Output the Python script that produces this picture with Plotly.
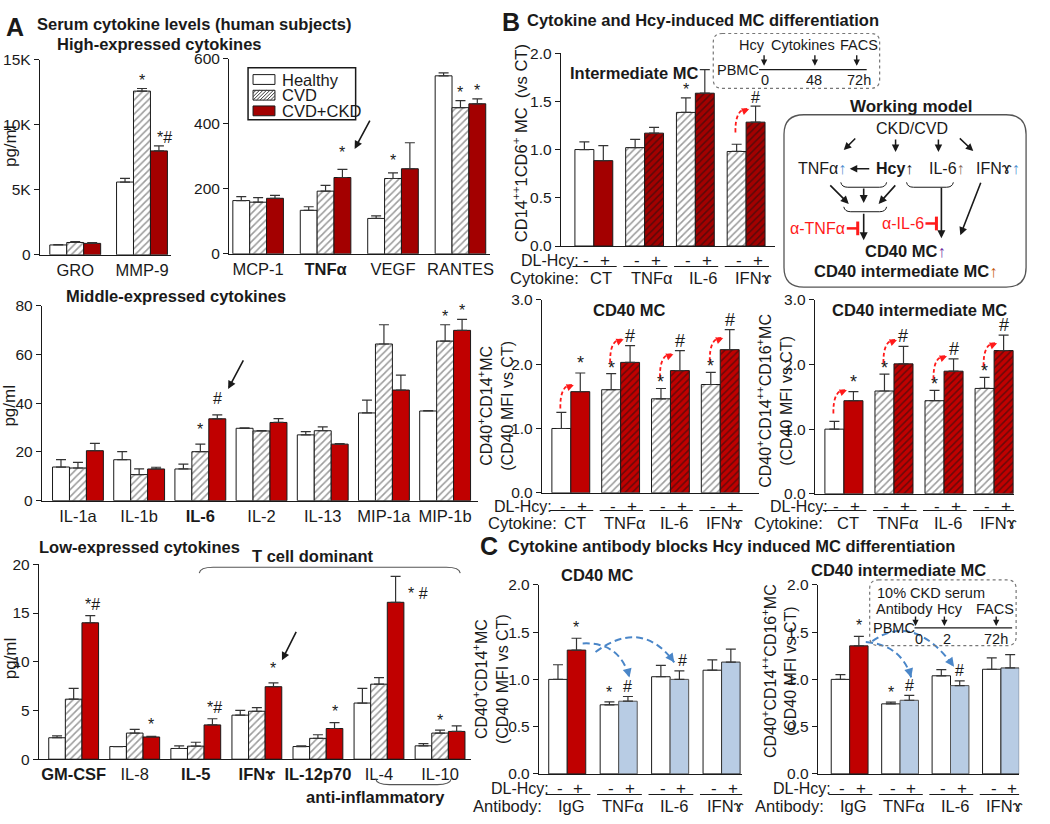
import plotly.graph_objects as go

W, H = 1050, 824
FONT = "Liberation Sans, Arial, Helvetica, sans-serif"
INK = "#1a1a1a"
RED = "#C00000"
DRED = "#A30000"
BLUE = "#B8CCE4"
HATCH = "#3a3a3a"
TS = 16.5  # bold title size

# ---------------- data ----------------
series_A = ["Healthy", "CVD", "CVD+CKD"]

hi_left_cats = ["GRO", "MMP-9"]
hi_left_healthy = [760, 5600]
hi_left_healthy_err = [30, 280]
hi_left_cvd = [950, 12600]
hi_left_cvd_err = [60, 200]
hi_left_ckd = [880, 8000]
hi_left_ckd_err = [60, 390]

hi_right_cats = ["MCP-1", "<b>TNFα</b>", "VEGF", "RANTES"]
hi_right_healthy = [164, 134, 109, 548]
hi_right_healthy_err = [12, 11, 8, 9]
hi_right_cvd = [159, 193, 232, 450]
hi_right_cvd_err = [14, 18, 17, 22]
hi_right_ckd = [171, 235, 262, 462]
hi_right_ckd_err = [9, 25, 80, 15]

mid_cats = ["IL-1a", "IL-1b", "<b>IL-6</b>", "IL-2", "IL-13", "MIP-1a", "MIP-1b"]
mid_healthy = [13.8, 16.8, 13.0, 29.7, 27.0, 36.0, 36.8]
mid_healthy_err = [3.0, 3.3, 2.0, 0.2, 1.3, 5.3, 0.2]
mid_cvd = [13.4, 10.7, 20.1, 28.6, 28.7, 64.3, 65.5]
mid_cvd_err = [2.3, 2.3, 3.1, 0.2, 1.6, 7.9, 6.7]
mid_ckd = [20.5, 13.0, 33.6, 32.1, 23.2, 45.4, 69.9]
mid_ckd_err = [3.0, 0.7, 1.6, 1.6, 0.2, 6.1, 4.5]

low_cats = ["<b>GM-CSF</b>", "IL-8", "<b>IL-5</b>", "<b>IFNɤ</b>", "<b>IL-12p70</b>", "IL-4", "IL-10"]
low_healthy = [2.2, 1.3, 1.1, 4.52, 1.3, 5.76, 1.37]
low_healthy_err = [0.2, 0.0, 0.27, 0.5, 0.07, 1.5, 0.23]
low_cvd = [6.16, 2.68, 1.34, 4.92, 2.14, 7.7, 2.68]
low_cvd_err = [1.1, 0.37, 0.4, 0.37, 0.37, 0.68, 0.3]
low_ckd = [14.0, 2.28, 3.52, 7.44, 3.15, 16.1, 2.85]
low_ckd_err = [0.74, 0.07, 0.63, 0.4, 0.6, 2.66, 0.57]

cyto_cats = ["CT", "TNFα", "IL-6", "IFNɤ"]
ab_cats = ["IgG", "TNFα", "IL-6", "IFNɤ"]

inter_minus = [1.0, 1.02, 1.385, 0.98]
inter_minus_err = [0.08, 0.085, 0.15, 0.075]
inter_plus = [0.885, 1.17, 1.584, 1.284]
inter_plus_err = [0.155, 0.06, 0.245, 0.166]

cd40_minus = [1.0, 1.603, 1.462, 1.684]
cd40_minus_err = [0.25, 0.25, 0.16, 0.19]
cd40_plus = [1.573, 2.028, 1.90, 2.226]
cd40_plus_err = [0.29, 0.26, 0.31, 0.31]

cd40i_minus = [1.0, 1.59, 1.44, 1.63]
cd40i_minus_err = [0.12, 0.26, 0.16, 0.17]
cd40i_plus = [1.44, 2.01, 1.897, 2.216]
cd40i_plus_err = [0.14, 0.27, 0.19, 0.24]

ab_minus = [1.0, 0.731, 1.028, 1.097]
ab_minus_err = [0.155, 0.03, 0.12, 0.11]
ab_plus = [1.31, 0.769, 1.0, 1.183]
ab_plus_err = [0.125, 0.05, 0.09, 0.137]

abi_minus = [1.0, 0.741, 1.038, 1.107]
abi_minus_err = [0.05, 0.018, 0.065, 0.12]
abi_plus = [1.355, 0.779, 0.934, 1.121]
abi_plus_err = [0.10, 0.052, 0.05, 0.14]

# ---------------- helpers ----------------
fig = go.Figure()
layout = {}
panels = {}
annotations = []
shapes = []


def xid(i):
    return "x" if i == 1 else f"x{i}"


def yid(i):
    return "y" if i == 1 else f"y{i}"


def add_panel(i, xpx, ypx, xr, yr, yticks, yticktext=None, xtickvals=None, xticktext=None):
    xa = dict(domain=[xpx[0] / W, xpx[1] / W], range=xr, anchor=yid(i), showline=True,
              linecolor=INK, linewidth=1.2, ticks="", showgrid=False, zeroline=False,
              fixedrange=True, tickfont=dict(size=16.5, color=INK, family=FONT))
    if xtickvals is not None:
        xa.update(tickmode="array", tickvals=xtickvals, ticktext=xticktext)
    else:
        xa.update(showticklabels=False)
    ya = dict(domain=[1 - ypx[1] / H, 1 - ypx[0] / H], range=yr, anchor=xid(i), showline=True,
              linecolor=INK, linewidth=1.2, ticks="outside", ticklen=5, tickwidth=1.2,
              tickcolor=INK, showgrid=False, zeroline=False, fixedrange=True,
              tickmode="array", tickvals=yticks,
              ticktext=yticktext if yticktext else None,
              tickfont=dict(size=15.5, color=INK, family=FONT))
    if yticktext is None:
        ya["tickformat"] = ".1f" if yr[1] <= 3 else "d"
    key = "" if i == 1 else str(i)
    layout["xaxis" + key] = xa
    layout["yaxis" + key] = ya
    panels[i] = dict(xpx=xpx, ypx=ypx, xr=xr, yr=yr)


def ppu_y(i):
    p = panels[i]
    return (p["ypx"][1] - p["ypx"][0]) / (p["yr"][1] - p["yr"][0])


def ppu_x(i):
    p = panels[i]
    return (p["xpx"][1] - p["xpx"][0]) / (p["xr"][1] - p["xr"][0])


def err_style(e):
    return dict(type="data", symmetric=False, array=e, arrayminus=[0] * len(e),
                color="#333333", thickness=1.2, width=5)


def txt(x, y, s, size=15, bold=False, xanchor="center", color=INK, angle=0, yanchor="middle"):
    annotations.append(dict(x=x / W, y=1 - y / H, xref="paper", yref="paper",
                            text=f"<b>{s}</b>" if bold else s, showarrow=False,
                            xanchor=xanchor, yanchor=yanchor, textangle=angle,
                            font=dict(size=size, color=color, family=FONT)))


def arrow(xh, yh, xt, yt, color=INK, width=1.5, size=1.0, head=2):
    annotations.append(dict(x=xh / W, y=1 - yh / H, xref="paper", yref="paper",
                            ax=xt - xh, ay=yt - yh, showarrow=True, arrowhead=head,
                            arrowsize=size, arrowwidth=width, arrowcolor=color,
                            text="", standoff=0))


def P(x, y):
    return f"{x / W:.5f},{1 - y / H:.5f}"


def ppath(segs, color=INK, width=1.2, dash=None, fill=None):
    out = []
    for s in segs:
        if s[0] == "Z":
            out.append("Z")
        elif s[0] == "Q":
            out.append(f"Q{P(s[1], s[2])} {P(s[3], s[4])}")
        else:
            out.append(f"{s[0]}{P(s[1], s[2])}")
    d = dict(type="path", xref="paper", yref="paper", path=" ".join(out),
             line=dict(color=color, width=width))
    if dash:
        d["line"]["dash"] = dash
    if fill:
        d["fillcolor"] = fill
    shapes.append(d)


def hline(x0, x1, y, color=INK, width=1.2):
    shapes.append(dict(type="line", xref="paper", yref="paper", x0=x0 / W, x1=x1 / W,
                       y0=1 - y / H, y1=1 - y / H, line=dict(color=color, width=width)))


def vline(x, y0, y1, color=INK, width=1.2):
    shapes.append(dict(type="line", xref="paper", yref="paper", x0=x / W, x1=x / W,
                       y0=1 - y0 / H, y1=1 - y1 / H, line=dict(color=color, width=width)))


def prect(x0, y0, x1, y1, line=INK, fill="white", width=1.0):
    shapes.append(dict(type="rect", xref="paper", yref="paper", x0=x0 / W, x1=x1 / W,
                       y0=1 - y1 / H, y1=1 - y0 / H, line=dict(color=line, width=width),
                       fillcolor=fill))


def rrect(x0, y0, x1, y1, r, color, width, dash=None):
    ppath([("M", x0 + r, y0), ("L", x1 - r, y0), ("Q", x1, y0, x1, y0 + r),
           ("L", x1, y1 - r), ("Q", x1, y1, x1 - r, y1), ("L", x0 + r, y1),
           ("Q", x0, y1, x0, y1 - r), ("L", x0, y0 + r), ("Q", x0, y0, x0 + r, y0)],
          color=color, width=width, dash=dash)


def mark(i, x, top, s, xshift=0, yshift=0, size=15):
    annotations.append(dict(x=x, y=top, xref=xid(i), yref=yid(i), text=s, showarrow=False,
                            xanchor="center", yanchor="bottom", xshift=xshift, yshift=yshift - 2,
                            font=dict(size=size, color=INK, family=FONT)))


def style_A(s, red):
    if s == 0:
        return dict(color="white", line=dict(color=INK, width=1))
    if s == 1:
        return dict(color="white", line=dict(color=INK, width=1),
                    pattern=dict(shape="/", fgcolor=HATCH, bgcolor="white", size=5, solidity=0.32))
    return dict(color=red, line=dict(color=INK, width=1))


def bars_A(i, cats, vals, errs, bw, red):
    n = len(cats)
    xs_all = []
    for s in range(3):
        xs = [g + (s - 1) * bw for g in range(n)]
        xs_all.append(xs)
        fig.add_trace(go.Bar(x=xs, y=vals[s], width=bw, name=series_A[s], showlegend=False,
                             xaxis=xid(i), yaxis=yid(i), marker=style_A(s, red),
                             error_y=err_style(errs[s]), hoverinfo="skip"))
    return xs_all


def bars_2(i, minus, minus_err, plus, plus_err, bw, minus_style, plus_style):
    n = len(minus)
    xm = [g - bw / 2 for g in range(n)]
    xp = [g + bw / 2 for g in range(n)]
    fig.add_trace(go.Bar(x=xm, y=minus, width=bw, showlegend=False, xaxis=xid(i), yaxis=yid(i),
                         marker=minus_style, error_y=err_style(minus_err), hoverinfo="skip"))
    fig.add_trace(go.Bar(x=xp, y=plus, width=bw, showlegend=False, xaxis=xid(i), yaxis=yid(i),
                         marker=plus_style, error_y=err_style(plus_err), hoverinfo="skip"))
    return xm, xp


def group_rows(i, n, xm, xp, y_sign, y_line, y_lab, lab1, lab2, cats, lab_right, lab_right2,
               cat_shift=0.08):
    for g in range(n):
        for x, s in ((xm[g], "-"), (xp[g], "+")):
            annotations.append(dict(x=x, y=1 - y_sign / H, xref=xid(i), yref="paper", text=s,
                                    showarrow=False, xshift=2, yanchor="middle", xanchor="center",
                                    font=dict(size=17, color=INK, family=FONT)))
        shapes.append(dict(type="line", xref=xid(i), yref="paper", x0=g - 0.42, x1=g + 0.45,
                           y0=1 - y_line / H, y1=1 - y_line / H, line=dict(color=INK, width=1.1)))
        annotations.append(dict(x=g + cat_shift, y=1 - y_lab / H, xref=xid(i), yref="paper",
                                text=cats[g], showarrow=False, yanchor="middle", xanchor="center",
                                font=dict(size=16.5, color=INK, family=FONT)))
    txt(lab_right, y_sign, lab1, size=16, xanchor="right")
    txt(lab_right2, y_lab, lab2, size=16.5, xanchor="right")


def red_arrow(i, g, top, pad_px, dy_px=24):
    y0 = top + pad_px / ppu_y(i)
    y1 = y0 + dy_px / ppu_y(i)
    x0 = g - 0.21
    x2 = g + 0.02
    shapes.append(dict(type="path", xref=xid(i), yref=yid(i),
                       path=f"M{x0},{y0} Q{x0 - 0.01},{y1} {x2},{y1}",
                       line=dict(color="#FF1A1A", width=1.8, dash="4px,2.5px")))
    annotations.append(dict(x=x2 + 0.04, y=y1, xref=xid(i), yref=yid(i), ax=-5, ay=2,
                            showarrow=True, arrowhead=2, arrowsize=0.9, arrowwidth=1.6,
                            arrowcolor="#FF1A1A", text="", standoff=0))


def blue_arc(i, p0, c, p2):
    shapes.append(dict(type="path", xref=xid(i), yref=yid(i),
                       path=f"M{p0[0]},{p0[1]} Q{c[0]},{c[1]} {p2[0]},{p2[1]}",
                       line=dict(color="#4A86C8", width=2.0, dash="7px,4px")))
    dx = (p2[0] - c[0]) * ppu_x(i)
    dy = -(p2[1] - c[1]) * ppu_y(i)
    L = (dx * dx + dy * dy) ** 0.5
    annotations.append(dict(x=p2[0], y=p2[1], xref=xid(i), yref=yid(i),
                            ax=-dx / L * 7, ay=-dy / L * 7, showarrow=True, arrowhead=2,
                            arrowsize=1, arrowwidth=1.8, arrowcolor="#4A86C8", text="", standoff=0))


# ---------------- Panel A ----------------
add_panel(1, (40, 172), (52, 251), [-0.53, 1.44], [0, 15000], [0, 5000, 10000, 15000],
          ["0", "5K", "10K", "15K"], list(range(len(hi_left_cats))), hi_left_cats)
xs = bars_A(1, hi_left_cats, [hi_left_healthy, hi_left_cvd, hi_left_ckd],
            [hi_left_healthy_err, hi_left_cvd_err, hi_left_ckd_err], 0.254, DRED)
mark(1, xs[1][1], hi_left_cvd[1] + hi_left_cvd_err[1], "*", size=16)
mark(1, xs[2][1] + 0.08, hi_left_ckd[1] + hi_left_ckd_err[1], "*#", size=16)

add_panel(2, (230, 492), (51, 250), [-0.43, 3.44], [0, 600], [0, 200, 400, 600], None,
          list(range(len(hi_right_cats))), hi_right_cats)
xs = bars_A(2, hi_right_cats, [hi_right_healthy, hi_right_cvd, hi_right_ckd],
            [hi_right_healthy_err, hi_right_cvd_err, hi_right_ckd_err], 0.25, DRED)
mark(2, xs[2][1], hi_right_ckd[1] + hi_right_ckd_err[1], "*", yshift=8, size=16)
mark(2, xs[1][2], hi_right_cvd[2] + hi_right_cvd_err[2], "*", yshift=4, size=16)
mark(2, xs[1][3], hi_right_cvd[3] + hi_right_cvd_err[3], "*", size=16)
mark(2, xs[2][3], hi_right_ckd[3] + hi_right_ckd_err[3], "*", size=16)

# manual legend (compact, like the reference)
prect(249, 60, 357, 113, line=INK, fill="white", width=1.5)
leg_rows = [72, 88, 104]
for s, yy in enumerate(leg_rows):
    x0, x1, y0, y1 = 254, 276, yy - 5, yy + 5
    if s == 2:
        prect(x0, y0, x1, y1, line=INK, fill=DRED)
    else:
        prect(x0, y0, x1, y1, line=INK, fill="white")
    if s == 1:
        c = x0 + y0 + 3
        while c < x1 + y1:
            xa_ = max(x0, c - y1)
            xb_ = min(x1, c - y0)
            if xb_ > xa_:
                shapes.append(dict(type="line", xref="paper", yref="paper",
                                   x0=xa_ / W, y0=1 - (c - xa_) / H, x1=xb_ / W, y1=1 - (c - xb_) / H,
                                   line=dict(color=HATCH, width=1)))
            c += 3.5
    txt(281, yy, series_A[s], size=16.5, xanchor="left")

add_panel(3, (42, 480), (303, 502), [-0.59, 6.54], [0, 80], [0, 20, 40, 60, 80], None,
          list(range(len(mid_cats))), mid_cats)
xs = bars_A(3, mid_cats, [mid_healthy, mid_cvd, mid_ckd],
            [mid_healthy_err, mid_cvd_err, mid_ckd_err], 0.277, RED)
mark(3, xs[1][2], mid_cvd[2] + mid_cvd_err[2], "*", yshift=6, size=16)
mark(3, xs[2][2], mid_ckd[2] + mid_ckd_err[2], "#", yshift=8, size=16)
mark(3, xs[1][6], mid_cvd[6] + mid_cvd_err[6], "*", size=16)
mark(3, xs[2][6], mid_ckd[6] + mid_ckd_err[6], "*", size=16)

add_panel(4, (39, 473), (567, 766), [-0.57, 6.51], [0, 20], [0, 5, 10, 15, 20], None,
          list(range(len(low_cats))), low_cats)
xs = bars_A(4, low_cats, [low_healthy, low_cvd, low_ckd],
            [low_healthy_err, low_cvd_err, low_ckd_err], 0.272, RED)
mark(4, xs[2][0] + 0.04, low_ckd[0] + low_ckd_err[0], "*#", yshift=3, size=16)
mark(4, xs[2][1], low_ckd[1] + low_ckd_err[1], "*", yshift=3, size=16)
mark(4, xs[2][2] + 0.04, low_ckd[2] + low_ckd_err[2], "*#", yshift=3, size=16)
mark(4, xs[2][3], low_ckd[3] + low_ckd_err[3], "*", yshift=6, size=16)
mark(4, xs[2][4], low_ckd[4] + low_ckd_err[4], "*", yshift=3, size=16)
mark(4, xs[2][5], low_ckd[5] + low_ckd_err[5], "* #", xshift=22, yshift=-26, size=16)
mark(4, xs[1][6], low_cvd[6] + low_cvd_err[6], "*", yshift=1, size=16)

# Panel A texts
txt(15, 18, "A", size=25, bold=True)
txt(35, 15, "Serum cytokine levels (human subjects)", size=TS, bold=True, xanchor="left")
txt(55, 36, "High-expressed cytokines", size=TS, bold=True, xanchor="left")
txt(64, 293, "Middle-expressed cytokines", size=TS, bold=True, xanchor="left")
txt(37, 549, "Low-expressed cytokines", size=TS, bold=True, xanchor="left")
txt(314, 559, "T cell dominant", size=TS, bold=True)
txt(377, 805, "anti-inflammatory", size=TS, bold=True)
for yy in (140, 405, 663):
    txt(10, yy, "pg/ml", size=17, angle=-90)
ppath([("M", 200, 576), ("Q", 201, 570, 214, 570), ("L", 448, 570), ("Q", 461, 570, 462, 576)],
      color="#555555", width=1.1)
ppath([("M", 377, 786), ("Q", 378, 792, 391, 792), ("L", 439, 792), ("Q", 452, 792, 453, 786)],
      color="#555555", width=1.1)
arrow(356, 143, 372, 113, width=1.6)
arrow(229, 388, 245, 358, width=1.6)
arrow(283, 665, 298, 635, width=1.6)

# ---------------- Panel B ----------------
pat_shapes = ["", "/", "/", "/"]


def b_styles(red):
    ms = dict(color="white", line=dict(color=INK, width=1),
              pattern=dict(shape=pat_shapes, fgcolor=HATCH, size=5, solidity=0.32))
    ps = dict(color=red, line=dict(color=INK, width=1),
              pattern=dict(shape=pat_shapes, fgcolor="#111111", size=5, solidity=0.32))
    return ms, ps


add_panel(5, (563, 778), (45, 242), [-0.65, 3.57], [0, 2], [0, 0.5, 1.0, 1.5, 2.0])
ms, ps = b_styles(DRED)
xm, xp = bars_2(5, inter_minus, inter_minus_err, inter_plus, inter_plus_err, 0.373, ms, ps)
mark(5, xm[2], inter_minus[2] + inter_minus_err[2], "*", size=16)
mark(5, xp[3], inter_plus[3] + inter_plus_err[3], "#", size=16)
red_arrow(5, 3, inter_minus[3] + inter_minus_err[3], 12)
group_rows(5, 4, xm, xp, 257, 263, 275, "DL-Hcy:", "Cytokine:", cyto_cats, 583, 583, cat_shift=0.15)
txt(570, 65, "Intermediate MC", size=TS, bold=True, xanchor="left")
txt(522, 137, "CD14<sup>++</sup>1CD6<sup>+</sup> MC  (vs CT)", size=16.5, angle=-90)
txt(513, 13, "B", size=25, bold=True)
txt(527, 11, "Cytokine and Hcy-induced MC differentiation", size=TS, bold=True, xanchor="left")

# inset timeline B
rrect(716, 25, 883, 81, 9, "#777777", 1.2, dash="dot")
txt(755, 37, "Hcy", size=14.5)
txt(806, 37, "Cytokines", size=14.5)
txt(862, 37, "FACS", size=14.5)
for ax_ in (767, 818, 860):
    arrow(ax_, 58, ax_, 46, width=1.4, size=0.9)
hline(762, 870, 62)
txt(741, 62, "PBMC", size=14.5)
txt(768, 73, "0", size=14.5)
txt(817, 73, "48", size=14.5)
txt(862, 73, "72h", size=14.5)

# Working model
txt(914, 100, "Working model", size=17, bold=True)
rrect(787, 108, 1030, 284, 20, "#555555", 1.3)
txt(915, 122, "CKD/CVD", size=16)
txt(825, 163, "TNFα<span style='color:#4f8fd0'>↑</span>", size=16)
txt(898, 163, "<b>Hcy</b>↑", size=16)
txt(951, 163, "IL-6<span style='color:#8a6d5a'>↑</span>", size=16)
txt(1002, 163, "IFNɤ<span style='color:#4f8fd0'>↑</span>", size=16)
arrow(847, 144, 860, 131, width=1.5)
arrow(899, 146, 899, 132, width=1.5)
arrow(942, 146, 942, 132, width=1.5)
arrow(977, 145, 962, 131, width=1.5)
arrow(853, 163, 874, 163, width=1.5)
ppath([("M", 844, 177), ("Q", 845, 182, 851, 182), ("L", 883, 182), ("Q", 889, 182, 890, 177)], width=1.0)
ppath([("M", 910, 177), ("Q", 911, 182, 917, 182), ("L", 950, 182), ("Q", 956, 182, 957, 177)], width=1.0)
arrow(852, 199, 832, 179, width=1.6)
arrow(867, 198, 867, 182, width=1.6)
arrow(882, 199, 900, 179, width=1.6)
ppath([("M", 847, 202), ("Q", 848, 207, 854, 207), ("L", 883, 207), ("Q", 889, 207, 890, 202)], width=1.0)
arrow(867, 236, 867, 208, width=1.6)
arrow(945, 234, 945, 182, width=1.6)
arrow(964, 231, 985, 177, width=1.6)
txt(821, 224, "α-TNFα", size=16, color="#FF1A1A")
hline(850, 861, 224, color="#FF1A1A", width=2.5)
vline(861, 217, 231, color="#FF1A1A", width=3)
txt(906, 219, "α-IL-6", size=16, color="#FF1A1A")
hline(929, 940, 219, color="#FF1A1A", width=2.5)
vline(940, 212, 226, color="#FF1A1A", width=3)
txt(909, 247, "<b>CD40 MC</b><span style='color:#7030a0'>↑</span>", size=16.5)
txt(909, 268, "<b>CD40 intermediate MC</b><span style='color:#c55a11'>↑</span>", size=16.5)

# CD40 MC
add_panel(6, (544, 762), (297, 494), [-0.58, 3.78], [0, 3], [0, 1.0, 2.0, 3.0])
ms, ps = b_styles(RED)
xm, xp = bars_2(6, cd40_minus, cd40_minus_err, cd40_plus, cd40_plus_err, 0.38, ms, ps)
mark(6, xp[0], cd40_plus[0] + cd40_plus_err[0], "*", size=18)
for g in range(1, 4):
    mark(6, xm[g], cd40_minus[g] + cd40_minus_err[g], "*", size=18, yshift=-4)
    mark(6, xp[g], cd40_plus[g] + cd40_plus_err[g], "#", size=18)
for g in range(4):
    red_arrow(6, g, cd40_minus[g] + cd40_minus_err[g], 4 if g == 0 else 11)
group_rows(6, 4, xm, xp, 508, 512, 525, "DL-Hcy:", "Cytokine:", cyto_cats, 556, 561)
txt(632, 307, "CD40 MC", size=TS, bold=True)
txt(498, 405, "CD40<sup>+</sup>CD14<sup>+</sup>MC<br>(CD40 MFI vs CT)", size=16, angle=-90)

# CD40 intermediate MC
add_panel(7, (818, 1018), (297, 495), [-0.58, 3.4], [0, 3], [0, 1.0, 2.0, 3.0])
xm, xp = bars_2(7, cd40i_minus, cd40i_minus_err, cd40i_plus, cd40i_plus_err, 0.38, ms, ps)
mark(7, xp[0], cd40i_plus[0] + cd40i_plus_err[0], "*", size=18)
for g in range(1, 4):
    mark(7, xm[g], cd40i_minus[g] + cd40i_minus_err[g], "*", size=18, yshift=-4)
    mark(7, xp[g], cd40i_plus[g] + cd40i_plus_err[g], "#", size=18)
for g in range(4):
    red_arrow(7, g, cd40i_minus[g] + cd40i_minus_err[g], 8 if g == 0 else 11)
group_rows(7, 4, xm, xp, 508, 512, 525, "DL-Hcy:", "Cytokine:", cyto_cats, 833, 828)
txt(923, 307, "CD40 intermediate MC", size=TS, bold=True)
txt(778, 400, "CD40<sup>+</sup>CD14<sup>++</sup>CD16<sup>+</sup>MC<br>(CD40 MFI vs CT)", size=16, angle=-90)

# ---------------- Panel C ----------------
txt(491, 548, "C", size=25, bold=True)
txt(508, 548, "Cytokine antibody blocks Hcy induced MC differentiation", size=TS, bold=True, xanchor="left")

c_ms = dict(color="white", line=dict(color=INK, width=1))
c_ps = dict(color=[RED, BLUE, BLUE, BLUE], line=dict(color=["#222222", "#555555", "#555555", "#333333"], width=1))

add_panel(8, (541, 745), (588, 781), [-0.55, 3.4], [0, 2], [0, 0.5, 1.0, 1.5, 2.0])
xm, xp = bars_2(8, ab_minus, ab_minus_err, ab_plus, ab_plus_err, 0.36, c_ms, c_ps)
mark(8, xp[0], ab_plus[0] + ab_plus_err[0], "*", yshift=2, size=16)
mark(8, xm[1], ab_minus[1] + ab_minus_err[1], "*", yshift=1, size=16)
mark(8, xp[1], ab_plus[1] + ab_plus_err[1], "#", yshift=1, size=16)
mark(8, xp[2] + 0.07, ab_plus[2] + ab_plus_err[2], "#", yshift=2, size=16)
blue_arc(8, (0.30, ab_plus[0] + 0.07), (1.02, ab_plus[0] + 0.09),
         (1.21, ab_plus[1] + ab_plus_err[1] + 0.2))
blue_arc(8, (0.55, ab_plus[0] - 0.02), (1.45, ab_plus[0] + 0.34),
         (2.08, ab_plus[2] + ab_plus_err[2] + 0.09))
group_rows(8, 4, xm, xp, 796, 802, 814, "DL-Hcy:", "Antibody:", ab_cats, 553, 546)
txt(600, 578, "CD40 MC", size=TS, bold=True)
txt(493, 684, "CD40<sup>+</sup>CD14<sup>+</sup>MC<br>(CD40 MFI vs CT)", size=16, angle=-90)

add_panel(9, (821, 1023), (588, 781), [-0.63, 3.36], [0, 2], [0, 0.5, 1.0, 1.5, 2.0])
xm, xp = bars_2(9, abi_minus, abi_minus_err, abi_plus, abi_plus_err, 0.365, c_ms, c_ps)
mark(9, xp[0], abi_plus[0] + abi_plus_err[0], "*", yshift=2, size=16)
mark(9, xm[1], abi_minus[1] + abi_minus_err[1], "*", yshift=1, size=16)
mark(9, xp[1], abi_plus[1] + abi_plus_err[1], "#", yshift=1, size=16)
mark(9, xp[2], abi_plus[2] + abi_plus_err[2], "#", yshift=2, size=16)
blue_arc(9, (0.32, abi_plus[0] + 0.04), (1.03, abi_plus[0] + 0.01),
         (1.22, abi_plus[1] + abi_plus_err[1] + 0.19))
blue_arc(9, (0.45, abi_plus[0] + 0.05), (1.27, abi_plus[0] + 0.36),
         (2.07, abi_plus[2] + abi_plus_err[2] + 0.15))
group_rows(9, 4, xm, xp, 796, 802, 814, "DL-Hcy:", "Antibody:", ab_cats, 836, 829)
txt(902, 573, "CD40 intermediate MC", size=TS, bold=True)
txt(782, 676, "CD40<sup>+</sup>CD14<sup>++</sup>CD16<sup>+</sup>MC<br>(CD40 MFI vs CT)", size=16, angle=-90)

# inset timeline C
rrect(873, 583, 1020, 650, 9, "#777777", 1.2, dash="dot")
txt(935, 596, "10% CKD serum", size=14.5)
txt(908, 613, "Antibody", size=14.5)
txt(954, 613, "Hcy", size=14.5)
txt(999, 613, "FACS", size=14.5)
for ax_ in (919, 948, 1000):
    arrow(ax_, 630, ax_, 619, width=1.4, size=0.9)
hline(918, 1016, 632)
txt(897, 632, "PBMC", size=14.5)
txt(923, 643, "0", size=14.5)
txt(951, 643, "2", size=14.5)
txt(1000, 643, "72h", size=14.5)

fig.update_layout(**layout)
fig.update_layout(
    width=W, height=H, margin=dict(l=0, r=0, t=0, b=0),
    paper_bgcolor="white", plot_bgcolor="rgba(0,0,0,0)",
    barmode="overlay", font=dict(family=FONT, color=INK),
    annotations=annotations, shapes=shapes, showlegend=False,
)

fig.write_html("out.html", config={"displayModeBar": False},
               post_script="document.body.style.margin='0';")
